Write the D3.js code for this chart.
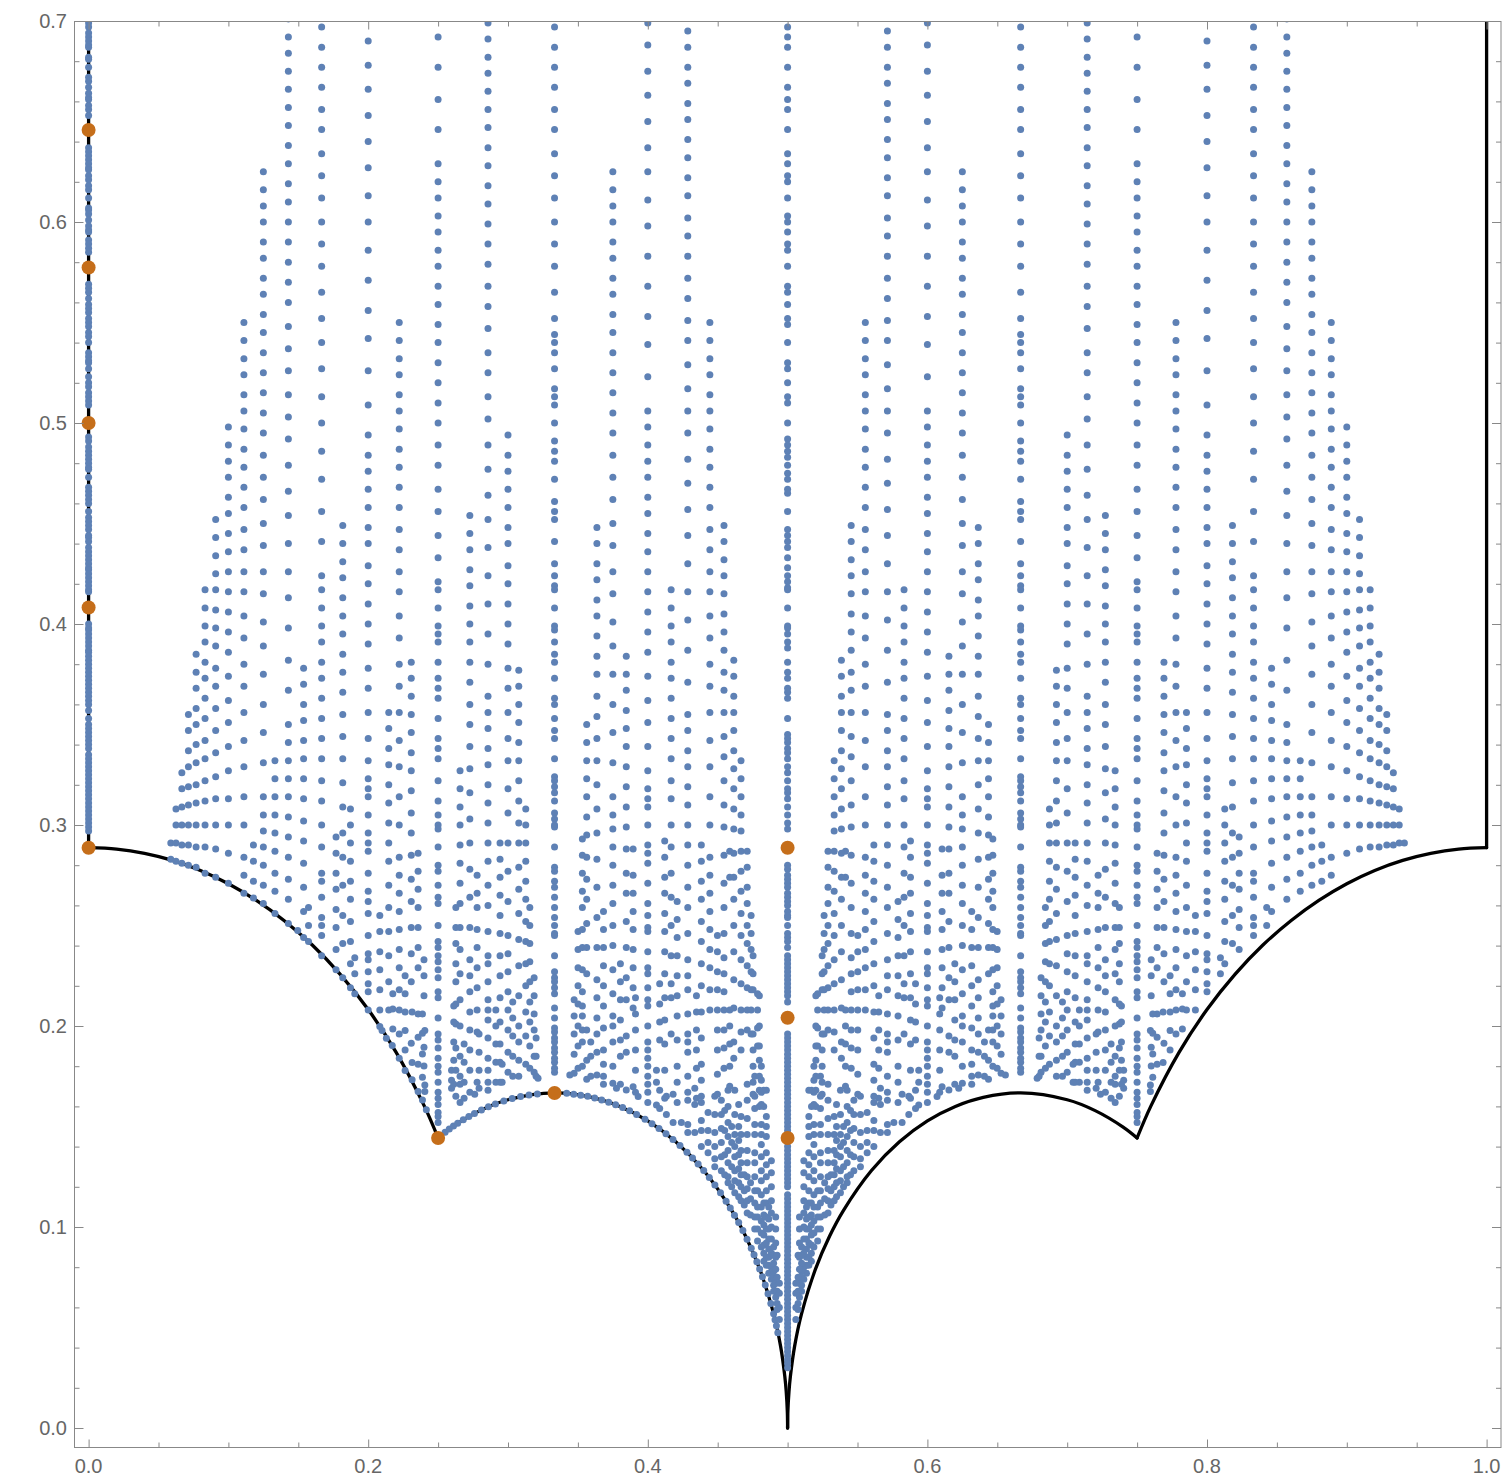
<!DOCTYPE html>
<html>
<head>
<meta charset="utf-8">
<script src="https://d3js.org/d3.v7.min.js"></script>
<style>
  body { margin: 0; background: #fff; }
  text { font-family: "Liberation Sans", sans-serif; font-size: 20px; fill: #666; }
</style>
</head>
<body>
<div id="chart"></div>
<script>
// tick labels
var xMajor = [0, 0.2, 0.4, 0.6, 0.8, 1];
var xMinor = [0.05, 0.1, 0.15, 0.25, 0.3, 0.35, 0.45, 0.5, 0.55, 0.65, 0.7, 0.75, 0.85, 0.9, 0.95];
var yMajor = [0, 0.1, 0.2, 0.3, 0.4, 0.5, 0.6, 0.7];
var yMinor = [0.02, 0.04, 0.06, 0.08, 0.12, 0.14, 0.16, 0.18, 0.22, 0.24, 0.26, 0.28, 0.32, 0.34, 0.36, 0.38,
  0.42, 0.44, 0.46, 0.48, 0.52, 0.54, 0.56, 0.58, 0.62, 0.64, 0.66, 0.68];

// black boundary, one piece between each pair of corners
var curvePieces = [
  [[0, 0.7], [0, 0.2887]],
  [[0, 0.2887], [0.02, 0.288], [0.04, 0.2859], [0.06, 0.2824], [0.08, 0.2774], [0.1, 0.2708], [0.12, 0.2625], [0.14, 0.2524], [0.16, 0.2403], [0.18, 0.2257], [0.2, 0.2082], [0.22, 0.1869], [0.24, 0.1604], [0.25, 0.1443]],
  [[0.25, 0.1443], [0.26, 0.1497], [0.28, 0.1579], [0.3, 0.1633], [0.3333, 0.1667], [0.36, 0.1645], [0.38, 0.16], [0.4, 0.1528], [0.42, 0.1424], [0.44, 0.1281], [0.46, 0.1083], [0.47, 0.0954], [0.48, 0.0792], [0.49, 0.0569], [0.495, 0.0406], [0.498, 0.0257], [0.499, 0.0182], [0.4998, 0.0082], [0.5, 0]],
  [[0.5, 0], [0.5002, 0.0082], [0.501, 0.0182], [0.502, 0.0257], [0.505, 0.0406], [0.51, 0.0569], [0.52, 0.0792], [0.53, 0.0954], [0.54, 0.1083], [0.56, 0.1281], [0.58, 0.1424], [0.6, 0.1528], [0.62, 0.16], [0.64, 0.1645], [0.6667, 0.1667], [0.7, 0.1633], [0.72, 0.1579], [0.74, 0.1497], [0.75, 0.1443]],
  [[0.75, 0.1443], [0.76, 0.1604], [0.78, 0.1869], [0.8, 0.2082], [0.82, 0.2257], [0.84, 0.2403], [0.86, 0.2524], [0.88, 0.2625], [0.9, 0.2708], [0.92, 0.2774], [0.94, 0.2824], [0.96, 0.2859], [0.98, 0.288], [1, 0.2887]],
  [[1, 0.2887], [1, 0.7]]
];

// orange points
var orangeX = [0, 0, 0, 0, 0, 0.25, 0.3333, 0.5, 0.5, 0.5];
var orangeY = [0.6458, 0.5774, 0.5, 0.4082, 0.2887, 0.1443, 0.1667, 0.2887, 0.2041, 0.1443];

// blue points on x = 0 and x = 1/2
var edgeY = [.699,.697,.694,.692,.690,.688,.687,.682,.681,.677,.672,.670,.667,.664,.662,.661,.658,.656,.653,
  .637,.635,.633,.631,.629,.627,.626,.623,.621,.618,.616,.612,.607,.606,.604,.601,.598,.596,.595,.591,.589,.587,.585,
  .569,.567,.565,.562,.559,.557,.555,.552,.550,.548,.545,.543,.540,.535,.533,.531,.530,.527,.523,.520,.518,.515,.513,.511,.509,
  .493,.491,.488,.486,.484,.482,.480,.478,.477,.473,.468,.466,.464,.462,.460,.456,.453,.451,.449,.447,.444,.443,.441,
  .438,.436,.434,.432,.430,.428,.427,.425,.423,.421,.419,.417,.416,
  .400,.398,.397,.395,.393,.391,.389,.387,.386,.384,.382,.380,.378,.376,.374,.372,.370,.368,.366,.364,.362,.360,.357,.353,
  .350,.348,.346,.344,.342,.340,.338,.335,.333,.331,.329,.327,.325,.323,.321,.319,.317,.315,.313,.311,.309,.307,.305,.303,.301,.299,.297];
var centerY = [.697,.692,.687,.677,.667,.661,.656,.646,.634,.629,.623,.620,.612,.603,.600,.595,.589,.586,.578,.568,.565,.559,.552,.549,.540,.530,.527,.520,.513,.510,.500,
  .492,.489,.486,.483,.479,.475,.472,.467,.465,.456,.447,.444,.441,.438,.433,.428,.424,.421,.418,.417,.408,.399,.398,.395,.391,.388,.381,.376,.373,.368,.366,.363,.353,
  .345,.343,.341,.338,.336,.333,.329,.326,.322,.318,.316,.313,.309,.305,.301,.298,
  .280,.278,.275,.273,.271,.269,.266,.264,.262,.260,.257,.255,.254,.250,.246,.244,.242,.239,.235,.233,.231,.229,.227,.225,.223,.221,.219,.217,.215,.212,
  .196,.194,.192,.190,.188,.186,.184,.182,.180,.178,.176,.174,.172,.170,.168,.166,.164,.162,.160,.158,.156,.154,.152,.150,.148,.146,
  .140,.138,.136,.134,.132,.130,.128,.126,.124,.122,.120,
  .116,.114,.112,.110,.108,.106,.104,.102,.100,.098,.096,.094,.092,.090,.088,.086,.084,.082,.080,.078,.076,.074,.072,.070,.068,.066,.064,.062,.060,.058,.056,.054,.052,.050,.048,.046,.044,.042,.040,.038,.036,.034,.032,.030];

// blue points only along the left arcs
var arcX = [.0588,.0625,.0667,.0714,.0769,.0833,.0909,.1,.1111,.1179,.125,.1333,.1429,.1496,.1538,.1573,.1667,.177,.1818,.1873,.1904,.2,.2083,.2099,.213,.2172,.2222,.2264,.2314,.2357,.2388,.2416,
  .255,.258,.261,.264,.268,.272,.276,.281,.286,.291,.297,.303,.309,.315,.321,.342,.347,.352,.357,.362,.367,.372,.377,.382,.387,.392,.398,.403,.408,.413,.418,.423,.428,.432,.436,.44,.444,.448,.452,.456,.459,.462,.465,.468,.471,.474,.476,.478,.48,.482,.484,.486,.488,.49,.491,.492,.493];
var arcY = [.283,.282,.281,.28,.279,.276,.274,.271,.266,.2637,.261,.256,.251,.2475,.244,.242,.235,.228,.224,.219,.216,.208,.1998,.1977,.1939,.1903,.184,.1778,.1732,.1674,.1632,.1583,
  .1471,.1487,.1502,.1516,.1534,.155,.1565,.1582,.1598,.1612,.1627,.1639,.1649,.1657,.1662,.1665,.1661,.1656,.165,.1642,.1632,.1621,.1608,.1594,.1578,.156,.1536,.1514,.149,.1464,.1435,.1405,.1372,.1343,.1313,.1281,.1246,.1209,.117,.1128,.1095,.1059,.1022,.0982,.0939,.0894,.0862,.0827,.0791,.0752,.0711,.0668,.062,.0569,.0539,.0509,.0474];

// blue columns, the same heights turn up left and right of x = 1/2
var y0588 = [.291];
var y0625 = [.308,.300,.291];
var y0667 = [.326,.318,.309,.300,.290];
var y0714 = [.355,.347,.337,.329,.319,.310,.300,.290];
var y0769 = [.385,.376,.368,.358,.350,.340,.331,.320,.311,.300,.289];
var y0833 = [.417,.408,.399,.391,.381,.373,.363,.353,.342,.333,.322,.312,.300,.289];
var y0909 = [.452,.443,.434,.425,.417,.407,.398,.389,.378,.369,.358,.347,.336,.324,.313,.300,.288];
var y1000 = [.498,.489,.481,.473,.463,.455,.445,.436,.426,.416,.406,.396,.386,.374,.362,.351,.339,.327,.313,.300,.286];
var y1111 = [.550,.541,.532,.524,.514,.506,.497,.487,.478,.468,.458,.447,.437,.426,.416,.404,.393,.380,.369,.356,.342,.329,.314,.300,.284,.275];
var y1179 = [.290,.282,.272];
var y1250 = [.625,.616,.608,.600,.590,.582,.572,.564,.554,.545,.535,.525,.515,.505,.495,.484,.473,.462,.450,.439,.426,.415,.401,.389,.375,.360,.346,.331,.314,.305,.297,.289,.280,.270];
var y1333 = [.332,.323,.314,.305,.296,.287,.276,.267];
var y1429 = [.701,.692,.684,.675,.666,.657,.648,.638,.629,.619,.610,.600,.590,.580,.570,.560,.548,.537,.526,.514,.503,.492,.479,.466,.454,.440,.426,.413,.398,.382,.367,.350,.341,.332,.323,.314,.304,.294,.284,.273,.263];
var y1538 = [.378,.370,.360,.352,.342,.333,.323,.313,.302,.292,.281,.269,.257];
var y1573 = [.259,.250];
var y1667 = [.697,.687,.677,.667,.656,.646,.634,.623,.612,.600,.589,.578,.565,.552,.540,.527,.513,.500,.486,.472,.456,.441,.424,.417,.408,.399,.391,.381,.373,.363,.353,.343,.333,.322,.312,.300,.289,.276,.272,.264,.254,.250,.245];
var y1770 = [.294,.286,.276,.268,.258,.249,.238];
var y1818 = [.449,.440,.431,.423,.413,.404,.395,.385,.376,.366,.355,.344,.333,.321,.309,.296,.284,.270,.255,.241];
var y1873 = [.308,.300,.291,.282,.272,.263,.252,.242,.231];
var y1904 = [.234,.226];
var y2000 = [.690,.678,.666,.653,.640,.627,.613,.600,.586,.571,.556,.542,.526,.509,.494,.484,.476,.467,.458,.448,.440,.429,.420,.410,.400,.390,.378,.368,.356,.343,.332,.323,.318,.314,.305,.296,.291,.287,.276,.267,.262,.256,.245,.236,.233,.227,.221,.217];
var y2083 = [.255,.247,.237,.228,.218,.208];
var y2147 = [.356,.348,.338,.330,.320,.311,.301,.291,.282,.270,.259,.247,.235,.222,.208];
var y2176 = [.2085,.1985,.216];
var y2222 = [.550,.541,.532,.524,.514,.506,.497,.487,.478,.468,.458,.447,.437,.426,.416,.404,.393,.380,.369,.356,.342,.329,.314,.300,.284,.275,.266,.257,.248,.238,.229,.218,.208,.196];
var y2264 = [.207,.1977,.1881,.225,.216];
var y2308 = [.381,.373,.364,.355,.346,.336,.327,.317,.306,.296,.285,.273,.262,.249,.236,.222,.1914];
var y2314 = [.207,.1818];
var y2357 = [.286,.277,.268,.259,.249,.239,.229,.206,.1944,.181];
var y2388 = [.206,.1964,.1861,.1745];
var y2399 = [.233,.225,.215,.1894,.1801];
var y2405 = [.1977,.1707,.1674];
var y2500 = [.692,.677,.661,.646,.629,.620,.612,.603,.595,.586,.578,.568,.559,.549,.540,.530,.520,.510,.500,.489,.479,.467,.456,.444,.433,.421,.417,.408,.399,.395,.391,.381,.373,.368,.363,.353,.343,.338,.333,.322,.312,.305,.300,.298,.289,.280,.277,.270,.264,.261,.250,.242,.239,.235,.232,.228,.224,.217,.214,.204,.196,.193,.189,.184,.180,.177,.172,.167,.164,.161,.157,.155,.152];
var y2596 = [.178,.173,.169];
var y2612 = [.210,.202,.192,.183,.171];
var y2627 = [.259,.249,.241,.231,.222,.211,.201,.189,.178,.165];
var y2657 = [.327,.318,.309,.300,.290,.281,.271,.261,.249,.238,.226,.213,.200,.185,.175,.171,.162];
var y2686 = [.191,.182,.172,.164];
var y2727 = [.454,.445,.437,.427,.419,.409,.400,.391,.381,.371,.360,.350,.339,.328,.316,.303,.291,.278,.264,.249,.233,.225,.217,.207,.198,.188,.178,.167];
var y2762 = [.166];
var y2779 = [.275,.266,.259,.248,.239,.229,.219,.208,.197,.172];
var y2793 = [.196,.187,.178,.169];
var y2857 = [.699,.691,.682,.674,.665,.656,.647,.637,.628,.618,.609,.599,.589,.579,.568,.558,.547,.535,.525,.513,.502,.489,.477,.464,.452,.438,.424,.410,.395,.380,.364,.356,.348,.338,.330,.320,.311,.301,.291,.282,.270,.260,.247,.235,.231,.222,.213,.208,.203,.194,.184,.178,.172,.168];
var y2913 = [.208,.200,.191,.182,.172];
var y2943 = [.291,.283,.274,.265,.255,.246,.235,.225,.214,.202,.191,.182,.172];
var y2958 = [.181,.172];
var y3000 = [.494,.484,.476,.467,.458,.448,.440,.429,.420,.410,.400,.390,.378,.368,.356,.343,.332,.318,.306,.291,.277,.262,.245,.236,.227,.217,.208,.198,.187,.177];
var y3034 = [.212,.204,.195,.185,.175];
var y3077 = [.377,.369,.360,.351,.341,.332,.322,.312,.301,.291,.279,.268,.256,.243,.230,.215,.200,.192,.183,.175];
var y3127 = [.308,.300,.291,.282,.272,.263,.252,.242,.231,.220,.207,.195,.181];
var y3156 = [.259,.250,.241,.232,.222,.212,.202,.190,.179];
var y3187 = [.224,.215,.206,.198,.185,.177];
var y3201 = [.194,.185,.175];
var y3215 = [.174];
var y3333 = [.697,.687,.677,.667,.656,.646,.634,.623,.612,.600,.589,.578,.565,.552,.544,.540,.535,.527,.517,.513,.509,.500,.491,.486,.481,.472,.461,.456,.452,.441,.430,.424,.419,.417,.408,.399,.397,.391,.385,.381,.373,.363,.360,.353,.347,.343,.333,.324,.322,.319,.316,.312,.306,.303,.300,.299,.289,.279,.277,.272,.269,.264,.259,.254,.250,.246,.245,.235,.227,.224,.222,.219,.216,.209,.204,.199,.197,.194,.192,.189,.187,.184,.182,.179,.177];
var y3442 = [.1756];
var y3473 = [.213,.205,.196,.186,.1765];
var y3501 = [.247,.238,.229,.220,.211,.200,.190,.179];
var y3532 = [.293,.285,.276,.267,.259,.248,.239,.228,.217,.210,.205,.198,.192,.180];
var y3563 = [.350,.341,.332,.323,.314,.304,.295,.284,.273,.263,.251,.239,.226,.198,.183,.1735];
var y3592 = [.192,.185,.175];
var y3636 = [.448,.440,.430,.422,.412,.404,.394,.384,.375,.364,.354,.343,.332,.320,.308,.296,.283,.269,.254,.239,.223,.214,.204,.196,.187,.1756];
var y3683 = [.257,.248,.239,.230,.220,.210,.199,.188,.181,.175,.171];
var y3750 = [.625,.616,.608,.600,.590,.582,.572,.564,.554,.545,.535,.525,.515,.505,.495,.484,.473,.462,.450,.439,.426,.415,.401,.389,.375,.360,.346,.331,.314,.305,.298,.289,.280,.270,.261,.250,.240,.228,.216,.205,.200,.192,.180,.1715];
var y3776 = [.169];
var y3804 = [.231,.222,.213,.203,.193,.185,.171];
var y3846 = [.384,.375,.367,.357,.348,.339,.329,.319,.309,.299,.288,.276,.266,.252,.239,.224,.213,.195,.187,.1682];
var y3895 = [.288,.275,.266,.257,.248,.238,.229,.219,.209,.1698];
var y3912 = [.214,.206,.198,.188,.178,.167];
var y3931 = [.1649];
var y4000 = [.699,.688,.675,.663,.650,.637,.625,.611,.598,.583,.568,.553,.539,.523,.506,.498,.489,.481,.473,.463,.455,.445,.436,.426,.416,.406,.396,.386,.374,.362,.351,.339,.327,.318,.313,.309,.300,.290,.286,.281,.271,.261,.255,.249,.247,.237,.229,.226,.219,.213,.210,.200,.192,.188,.184,.180,.175,.171,.167,.162];
var y4062 = [.178,.172,.1607];
var y4085 = [.221,.211,.202,.193,.168,.159];
var y4121 = [.292,.284,.274,.266,.256,.247,.237,.226,.214,.203,.191,.178,.164];
var y4133 = [.165,.156];
var y4167 = [.417,.408,.399,.391,.381,.373,.363,.353,.343,.333,.322,.313,.300,.289,.276,.264,.250,.235,.221,.214,.196];
var y4181 = [.166,.152];
var y4210 = [.262,.253,.244,.235,.225,.215,.205,.193,.180,.172,.162];
var y4240 = [.152];
var y4286 = [.695,.687,.677,.669,.659,.651,.641,.632,.622,.613,.602,.593,.583,.572,.562,.551,.541,.529,.517,.506,.495,.482,.470,.457,.444,.430,.416,.402,.387,.371,.355,.347,.337,.329,.319,.310,.300,.290,.280,.269,.259,.246,.233,.225,.218,.206,.196,.192,.187,.175,.167,.163,.151,.147];
var y4336 = [.169,.161,.147];
var y4348 = [.215,.207,.198,.188,.179,.164];
var y4383 = [.290,.282,.272,.263,.252,.242,.231,.220,.207,.194,.181,.173,.165,.162,.153,.148,.140];
var y4431 = [.157,.148,.142,.137];
var y4444 = [.550,.541,.532,.524,.514,.506,.497,.487,.478,.468,.458,.447,.437,.426,.416,.404,.393,.380,.369,.356,.342,.329,.314,.300,.284,.275,.266,.257,.248,.238,.229,.218,.208];
var y4479 = [.165,.156,.147,.140,.134,.130];
var y4498 = [.245,.237,.227,.218,.208,.198,.188,.176,.166];
var y4526 = [.163,.156,.149,.142,.135,.128];
var y4545 = [.449,.441,.432,.424,.415,.405,.396,.387,.376,.367,.356,.344,.334,.322,.310,.299,.285,.271,.259,.246,.234,.226,.217,.208,.198,.189,.179];
var y4550 = [.158,.148,.136,.126];
var y4574 = [.168,.160,.152,.145,.138,.132,.125,.122];
var y4586 = [.287,.274,.208,.200,.191,.180,.170];
var y4600 = [.150,.142,.130,.120];
var y4615 = [.382,.374,.364,.356,.347,.337,.328,.318,.308,.298,.286,.274,.263,.250,.237,.223,.209,.192,.184];
var y4622 = [.168,.156,.146,.140,.135,.128,.123,.117];
var y4650 = [.161,.150,.143,.136,.129,.122,.115];
var y4667 = [.332,.323,.314,.305,.297,.287,.277,.267,.256,.245,.233,.221,.208,.197,.188,.155,.146,.138,.132,.126,.120,.113];
var y4690 = [.126,.118,.111];
var y4711 = [.287,.279,.269,.261,.250,.241,.230,.219,.208,.198,.171,.163,.154,.146,.138,.132,.125,.119,.113,.107];
var y4735 = [.122,.114,.106];
var y4739 = [.255,.246,.238,.227,.218,.208,.196];
var y4753 = [.235,.226,.218,.196,.188,.180,.172,.166];
var y4765 = [.175,.165,.159,.151,.146,.137,.132,.125,.118,.112,.105,.099];
var y4785 = [.216,.208,.199,.190,.118,.110,.105,.099,.093];
var y4798 = [.215,.200,.190,.183,.175,.168,.160];
var y4812 = [.180,.173,.167,.161,.151,.146,.141,.135,.128,.123,.116,.110,.103,.097,.090];
var y4829 = [.168,.160];
var y4830 = [.112,.106,.101,.096,.091,.087,.083];
var y4848 = [.168,.155,.150,.145,.137,.131,.125,.118,.112,.105,.099,.092,.085,.081];
var y4865 = [.110,.104,.099,.094,.089,.085,.081,.077];
var y4884 = [.133,.127,.120,.113,.107,.100,.094,.087,.080,.074];
var y4900 = [.090,.086,.082,.078,.075,.071,.068];
var y4915 = [.105,.099,.092,.085,.079,.072,.065];
var y4925 = [.086,.075,.068,.062,.059];
var y4941 = [.072,.067,.060,.054];

// left x, right x, heights
var columns = [
  [.0588, .9412, y0588], [.0625, .9375, y0625], [.0667, .9333, y0667], [.0714, .9286, y0714], [.0769, .9231, y0769],
  [.0833, .9167, y0833], [.0909, .9091, y0909], [.1, .9, y1000], [.1111, .8889, y1111], [.1179, .8821, y1179],
  [.125, .875, y1250], [.1333, .8667, y1333], [.1429, .8571, y1429], [.1538, .8462, y1538], [.1573, .8427, y1573],
  [.1667, .8333, y1667], [.177, .823, y1770], [.1818, .8182, y1818], [.1873, .8127, y1873], [.1904, .8096, y1904],
  [.2, .8, y2000], [.2083, .7917, y2083], [.2147, .7853, y2147], [.2176, .7824, y2176], [.2222, .7778, y2222],
  [.2264, .7736, y2264], [.2308, .7692, y2308], [.2314, .7686, y2314], [.2357, .7643, y2357], [.2388, .7612, y2388],
  [.2399, .7601, y2399], [.2405, .7595, y2405], [.25, .75, y2500], [.2596, .7404, y2596], [.2612, .7388, y2612],
  [.2627, .7373, y2627], [.2657, .7343, y2657], [.2686, .7314, y2686], [.2727, .7273, y2727], [.2762, .7238, y2762],
  [.2779, .7221, y2779], [.2793, .7207, y2793], [.2857, .7143, y2857], [.2913, .7087, y2913], [.2943, .7057, y2943],
  [.2958, .7042, y2958], [.3, .7, y3000], [.3034, .6966, y3034], [.3077, .6923, y3077], [.3127, .6873, y3127],
  [.3156, .6844, y3156], [.3187, .6813, y3187], [.3201, .6799, y3201], [.3215, .6785, y3215], [.3333, .6667, y3333],
  [.3442, .6558, y3442], [.3473, .6527, y3473], [.3501, .6499, y3501], [.3532, .6468, y3532], [.3563, .6437, y3563],
  [.3592, .6408, y3592], [.3636, .6364, y3636], [.3683, .6317, y3683], [.375, .625, y3750], [.3776, .6224, y3776],
  [.3804, .6196, y3804], [.3846, .6154, y3846], [.3895, .6105, y3895], [.3912, .6088, y3912], [.3931, .6069, y3931],
  [.4, .6, y4000], [.4062, .5938, y4062], [.4085, .5915, y4085], [.4121, .5879, y4121], [.4133, .5867, y4133],
  [.4167, .5833, y4167], [.4181, .5819, y4181], [.421, .579, y4210], [.424, .576, y4240], [.4286, .5714, y4286],
  [.4336, .5664, y4336], [.4348, .5652, y4348], [.4383, .5617, y4383], [.4431, .5569, y4431], [.4444, .5556, y4444],
  [.4479, .5521, y4479], [.4498, .5502, y4498], [.4526, .5474, y4526], [.4545, .5455, y4545], [.455, .545, y4550], [.4574, .5426, y4574],
  [.4586, .5414, y4586], [.46, .54, y4600], [.4615, .5385, y4615], [.4622, .5378, y4622], [.465, .535, y4650], [.4667, .5333, y4667], [.469, .531, y4690], [.4711, .5289, y4711],
  [.4735, .5265, y4735], [.4739, .5261, y4739], [.4753, .5247, y4753], [.4765, .5235, y4765], [.4785, .5215, y4785], [.4798, .5202, y4798],
  [.4812, .5188, y4812], [.4829, .5171, y4829], [.483, .517, y4830], [.4848, .5152, y4848], [.4865, .5135, y4865], [.4884, .5116, y4884], [.49, .51, y4900], [.4915, .5085, y4915],
  [.4925, .5075, y4925], [.4941, .5059, y4941]
];

var width = 1507;
var height = 1475;
var frame = { left: 74.5, right: 1501, top: 21.5, bottom: 1447.5 };

var x = d3.scaleLinear().domain([0, 1]).range([88.6, 1486.6]);
var y = d3.scaleLinear().domain([0, 0.7]).range([1428, 21]);

var svg = d3.select("#chart").append("svg")
  .attr("width", width)
  .attr("height", height);

svg.append("clipPath").attr("id", "plot").append("rect")
  .attr("x", frame.left).attr("y", frame.top)
  .attr("width", frame.right - frame.left)
  .attr("height", frame.bottom - frame.top);

var plot = svg.append("g").attr("clip-path", "url(#plot)");

// boundary first, the dots sit over it
var line = d3.line()
  .x(function (d) { return x(d[0]); })
  .y(function (d) { return y(d[1]); })
  .curve(d3.curveCatmullRom.alpha(0.5));

plot.selectAll("path.bound")
  .data(curvePieces)
  .enter().append("path")
  .attr("class", "bound")
  .attr("d", line)
  .attr("fill", "none")
  .attr("stroke", "#000")
  .attr("stroke-width", 3.3)
  .attr("stroke-linecap", "round");

var blue = [];
edgeY.forEach(function (v) { blue.push([0, v]); });
centerY.forEach(function (v) { blue.push([0.5, v]); });
arcX.forEach(function (v, i) { blue.push([v, arcY[i]]); });
columns.forEach(function (c) {
  c[2].forEach(function (v) {
    blue.push([c[0], v]);
    blue.push([c[1], v]);
  });
});

plot.selectAll("circle.blue")
  .data(blue)
  .enter().append("circle")
  .attr("class", "blue")
  .attr("cx", function (d) { return x(d[0]); })
  .attr("cy", function (d) { return y(d[1]); })
  .attr("r", 3.5)
  .attr("fill", "#5E81B5");

plot.selectAll("circle.orange")
  .data(orangeX)
  .enter().append("circle")
  .attr("class", "orange")
  .attr("cx", function (d) { return x(d); })
  .attr("cy", function (d, i) { return y(orangeY[i]); })
  .attr("r", 7)
  .attr("fill", "#C56E1A");

// frame and ticks, all drawn inward
function addAxis(axis, tx, ty, values, size) {
  svg.append("g")
    .attr("transform", "translate(" + tx + "," + ty + ")")
    .call(axis.tickValues(values).tickSize(size).tickSizeOuter(0).tickFormat(""))
    .call(function (g) {
      g.select(".domain").remove();
      g.selectAll("line").attr("stroke", "#888").attr("stroke-width", 1);
    });
}

addAxis(d3.axisBottom(x), 0, frame.bottom, xMinor, -5);
addAxis(d3.axisBottom(x), 0, frame.bottom, xMajor, -8);
addAxis(d3.axisTop(x), 0, frame.top, xMinor, -5);
addAxis(d3.axisTop(x), 0, frame.top, xMajor, -8);
addAxis(d3.axisLeft(y), frame.left, 0, yMinor, -5);
addAxis(d3.axisLeft(y), frame.left, 0, yMajor, -9);
addAxis(d3.axisRight(y), frame.right, 0, yMinor, -5);
addAxis(d3.axisRight(y), frame.right, 0, yMajor, -9);

svg.append("rect")
  .attr("x", frame.left).attr("y", frame.top)
  .attr("width", frame.right - frame.left)
  .attr("height", frame.bottom - frame.top)
  .attr("fill", "none")
  .attr("stroke", "#888")
  .attr("stroke-width", 1);

// tick labels
svg.selectAll("text.xl")
  .data(xMajor)
  .enter().append("text")
  .attr("class", "xl")
  .attr("x", function (d) { return x(d); })
  .attr("y", frame.bottom + 25)
  .attr("text-anchor", "middle")
  .text(d3.format(".1f"));

svg.selectAll("text.yl")
  .data(yMajor)
  .enter().append("text")
  .attr("class", "yl")
  .attr("x", frame.left - 7.5)
  .attr("y", function (d) { return y(d); })
  .attr("dy", "0.35em")
  .attr("text-anchor", "end")
  .text(d3.format(".1f"));
</script>
</body>
</html>
